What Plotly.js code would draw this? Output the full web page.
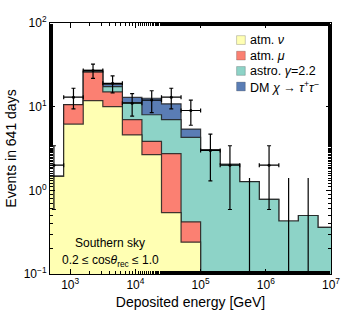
<!DOCTYPE html>
<html><head><meta charset="utf-8">
<script src="https://cdn.plot.ly/plotly-3.0.1.min.js"></script>
<style>body{margin:0;background:#fff;}#chart{width:354px;height:314px;}</style>
</head><body><div id="chart"></div>
<script>
// log10 bin edges of deposited energy [GeV]
const binEdgesLog = [2.6,2.9,3.2,3.5,3.8,4.1,4.4,4.7,5.0,5.3,5.6,5.9,6.2,6.5,6.8,7.1];
// expected events per bin, per component (stacked)
const atmNu = [1.47,6.2,11.8,10.0,4.6,2.67,0.54,0.24,0,0,0,0,0,0,0];
const atmMu = [0,4.4,14.1,5.0,2.4,1.18,2.21,0.18,0,0,0,0,0,0,0];
const astro = [0,0,0.6,2.4,4.2,4.15,4.25,3.88,3.0,2.05,1.27,0.78,0.43,0.50,0.36];
const dmTau = [0,0,0.9,1.0,1.7,4.6,3.8,1.1,0.06,0,0,0,0,0,0];
// observed events and error bars
const observed = [2,13,27,19,11,12,13,9,3,2,0,2,0,0,null];
const errUp    = [1.41,3.6,5.2,4.4,3.3,3.5,3.6,3.0,1.7,1.41,1.4,1.41,1.4,1.4,null];
const errDown  = [1.41,3.6,5.2,4.4,3.3,3.5,3.6,3.0,1.7,1.41,0,1.41,0,0,null];
// tick labels
const xTickVals = [1e3,1e4,1e5,1e6,1e7];
const xTickText = ['10<sup>3</sup>','10<sup>4</sup>','10<sup>5</sup>','10<sup>6</sup>','10<sup>7</sup>'];
const yTickVals = [0.1,1,10,100];
const yTickText = ['10<sup>−1</sup>','10<sup>0</sup>','10<sup>1</sup>','10<sup>2</sup>'];
const names = ['atm. <i>ν</i>','atm. <i>μ</i>','astro. <i>γ</i>=2.2','DM <i>χ</i> → <i>τ</i><sup>+</sup><i>τ</i><sup>−</sup>'];
const colors = ['#ffffb3','#fb8072','#8dd3c7','#5a7db5'];

const FLOOR = 1e-3;
const edgesX = binEdgesLog.map(v => Math.pow(10, v));
const comps = [atmNu, atmMu, astro, dmTau];
const cum = [];
let run = atmNu.map(() => 0);
comps.forEach(c => { run = run.map((r, i) => r + c[i]); cum.push(run.slice()); });

const traces = [];
for (let k = cum.length - 1; k >= 0; k--) {
  const yv = cum[k].map(v => Math.max(v, FLOOR));
  yv.push(yv[yv.length - 1]);
  traces.push({x: edgesX, y: edgesX.map(() => FLOOR), mode: 'lines', line: {width: 0}, showlegend: false, hoverinfo: 'skip'});
  traces.push({x: edgesX, y: yv, mode: 'lines', line: {shape: 'hv', color: 'rgba(30,30,30,0.85)', width: 1.2},
    fill: 'tonexty', fillcolor: colors[k], showlegend: false, hoverinfo: 'skip'});
}
// observed data
const centers = binEdgesLog.slice(0, -1).map((e, i) => (e + binEdgesLog[i + 1]) / 2);
const dx = [], dxp = [], dxm = [], dy = [], eu = [], ed = [];
const zx = [], zy = [];
centers.forEach((c, i) => {
  if (observed[i] === null) return;
  const xc = Math.pow(10, c);
  if (observed[i] > 0) {
    dx.push(xc); dy.push(observed[i]); eu.push(errUp[i]); ed.push(errDown[i]);
    dxp.push(Math.pow(10, binEdgesLog[i + 1]) - xc); dxm.push(xc - Math.pow(10, binEdgesLog[i]));
  } else {
    zx.push(xc, xc, null); zy.push(FLOOR, errUp[i], null);
  }
});
traces.push({x: zx, y: zy, mode: 'lines', line: {color: '#000', width: 1.2}, showlegend: false, hoverinfo: 'skip'});
traces.push({x: dx, y: dy, mode: 'markers', marker: {color: '#000', size: 3}, showlegend: false,
  error_y: {type: 'data', symmetric: false, array: eu, arrayminus: ed, color: '#000', thickness: 1.2, width: 2},
  error_x: {type: 'data', symmetric: false, array: dxp, arrayminus: dxm, color: '#000', thickness: 1.2, width: 2}});

const font = {family: 'Liberation Sans, Arial, sans-serif', color: '#000'};
const f = s => Object.assign({size: s}, font);

// legend drawn as swatches + labels in paper coordinates
const legRows = [0.932, 0.870, 0.809, 0.747];
const shapes = [], annotations = [];
names.forEach((n, k) => {
  shapes.push({type: 'rect', xref: 'paper', yref: 'paper', x0: 0.664, x1: 0.695,
    y0: legRows[k] - 0.0175, y1: legRows[k] + 0.0175, fillcolor: colors[k],
    line: {color: 'rgba(0,0,0,0.2)', width: 1}});
  annotations.push({xref: 'paper', yref: 'paper', x: 0.703, y: legRows[k], xanchor: 'left', yanchor: 'middle',
    text: n, showarrow: false, font: f(12.5)});
});
annotations.push({xref: 'paper', yref: 'paper', x: 0.214, y: 0.124, xanchor: 'center', yanchor: 'middle',
  text: 'Southern sky', showarrow: false, font: f(12)});
annotations.push({xref: 'paper', yref: 'paper', x: 0.214, y: 0.05, xanchor: 'center', yanchor: 'middle',
  text: '0.2 ≤ cos<i>θ</i><sub>rec</sub> ≤ 1.0', showarrow: false, font: f(12)});

const layout = {
  width: 354, height: 314,
  margin: {l: 50, r: 23, t: 23, b: 40},
  paper_bgcolor: '#fff', plot_bgcolor: '#fff',
  font: f(12),
  showlegend: false,
  xaxis: {type: 'log', range: [2.69, 7], tickvals: xTickVals, ticktext: xTickText,
    ticks: 'inside', ticklen: 5, tickcolor: '#000', showline: true, linecolor: '#000', linewidth: 1,
    mirror: 'allticks', showgrid: false, zeroline: false,
    minor: {ticks: 'inside', ticklen: 3, tickcolor: '#000', showgrid: false},
    tickfont: f(12),
    title: {text: 'Deposited energy [GeV]', font: f(14), standoff: 5}},
  yaxis: {type: 'log', range: [-1, 2], tickvals: yTickVals, ticktext: yTickText,
    ticks: 'inside', ticklen: 5, tickcolor: '#000', showline: true, linecolor: '#000', linewidth: 1,
    mirror: 'allticks', showgrid: false, zeroline: false,
    minor: {ticks: 'inside', ticklen: 3, tickcolor: '#000', showgrid: false},
    tickfont: f(12),
    title: {text: 'Events in 641 days', font: f(14), standoff: 3}},
  shapes: shapes,
  annotations: annotations
};
Plotly.newPlot('chart', traces, layout, {staticPlot: true, displayModeBar: false});
</script>
</body></html>
